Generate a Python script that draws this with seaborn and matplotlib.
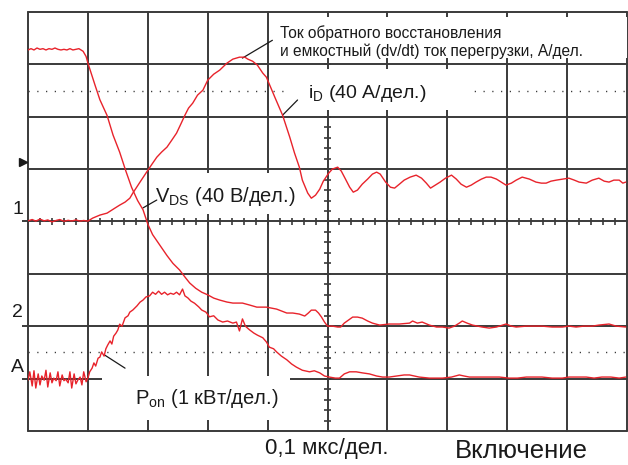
import numpy as np
import pandas as pd
import matplotlib
matplotlib.use("Agg")
import matplotlib.pyplot as plt
import seaborn as sns
from matplotlib.patches import Rectangle

# Oscilloscope traces (time in ns, 100 ns/div)
# V_DS, volts (40 V/div, ground marker "2")
vds_t = [0, 5, 10, 15, 20, 25, 30, 35, 40, 45, 50, 55, 60, 65, 70, 75, 80, 85, 92, 97,
         100, 112, 120, 132, 142, 153, 163, 173, 183, 192, 200, 208, 220, 232, 242, 253, 263, 270, 280, 290,
         300, 310, 320, 332, 342, 358, 370, 382, 398, 415, 432, 442, 453, 462, 468, 473, 480, 485, 490, 495,
         500, 508, 517, 522, 528, 535, 542, 550, 558, 567, 575, 587, 603, 620, 637, 642, 650, 658, 670, 682,
         692, 703, 712, 720, 725, 733, 742, 758, 770, 782, 798, 807, 815, 832, 845, 858, 875, 892, 903, 915,
         928, 942, 953, 970, 982, 998]
vds_v = [211, 212, 211, 212.5, 211.5, 212, 211, 212, 211.5, 212.5, 211.5, 211, 211.5, 211, 212, 211, 211.5, 212, 210, 206,
         201, 184, 173, 161, 146, 133, 119, 106, 96, 89, 78, 70, 62, 54, 48, 43, 37, 33, 29, 26,
         24, 21.5, 20, 18.5, 17.7, 17.7, 16.2, 14.6, 14.6, 13.1, 10.1, 10.1, 9.3, 7.8, 10.1, 12.3, 12.3, 10.1, 7.0, 3.2,
         0.1, 0.1, -0.6, -0.6, 2.4, 4.7, 7.0, 7.0, 6.2, 4.0, 2.4, 0.9, 1.7, 1.7, 2.4, 4.0, 2.4, 3.2, 0.9, -0.6,
         -0.6, -1.4, 0.1, 2.4, 4.0, 2.4, 0.9, -0.6, -1.4, -0.6, 1.7, 0.1, -0.6, 0.1, 0.1, 0.1, -0.6, -0.6, 0.1, -0.6,
         0.1, 0.1, 0.9, 1.7, 0.1, -0.6]

# i_D, amps (40 A/div, ground marker "1")
id_t = [0, 7, 13, 20, 27, 33, 40, 47, 53, 60, 67, 73, 80, 87, 93,
        100, 108, 120, 132, 145, 153, 162, 170, 175, 187,
        198, 207, 215, 223, 232, 240, 248, 255, 262, 268,
        275, 283, 292, 300, 310, 320, 332, 342, 353, 362,
        367, 375, 383, 392, 398, 412, 425, 437, 445, 453,
        458, 467, 473, 480, 487, 493, 502, 508, 517, 523,
        530, 537, 543, 550, 558, 567, 575, 582, 588, 597,
        605, 612, 620, 628, 638, 648, 657, 665, 672, 680,
        688, 697, 707, 715, 723, 732, 740, 748, 757, 765,
        773, 782, 790, 798, 807, 815, 825, 837, 848, 857,
        865, 873, 882, 893, 903, 912, 920, 932, 942, 953,
        962, 970, 978, 987, 993, 998]
id_a = [0.5, 1.5, 0.3, 1.8, 0.5, 1.2, -0.3, 0.8, 1.5, 0.2, 0.9, 0.4, 1.2, 0.3, 0.8,
        0.3, 2.6, 4.9, 6.4, 10.2, 12.5, 14.8, 17.8, 21.7, 30.1,
        37.7, 43.8, 49.1, 53.0, 56.8, 62.1, 67.5, 74.3, 81.2, 86.6,
        90.4, 96.5, 100.3, 107.9, 112.5, 115.6, 120.9, 124.0, 125.5, 125.5,
        124.0, 122.4, 119.4, 113.3, 110.2, 95.0, 81.2, 64.4, 52.2, 41.5,
        31.6, 21.7, 17.8, 20.1, 24.7, 30.8, 36.9, 40.0, 41.5, 38.5,
        32.4, 26.2, 22.4, 24.0, 28.5, 32.4, 36.2, 37.7, 36.2, 30.1,
        26.2, 25.5, 28.5, 31.6, 33.9, 35.4, 33.1, 29.3, 25.5, 27.8,
        30.1, 33.1, 35.4, 32.4, 28.5, 26.2, 27.8, 30.1, 32.4, 33.9,
        33.9, 32.4, 30.1, 27.8, 29.3, 31.6, 33.9, 32.4, 30.1, 29.3,
        29.3, 30.8, 31.6, 32.4, 33.1, 31.6, 30.1, 29.3, 31.6, 33.1,
        30.8, 30.1, 31.6, 31.6, 29.3, 30.1]

# P_on, kW (1 kW/div, ground marker "A")
pon_t = [0, 3, 7, 10, 13, 17, 20, 23, 27, 30, 33, 37, 40, 43, 47, 50, 53, 57, 60, 63,
         67, 70, 73, 77, 80, 83, 87, 90, 93, 97,
         100, 103, 107, 110, 113, 117, 120, 123, 127, 130,
         133, 137, 140, 143, 147, 150, 153, 157, 162, 167,
         170, 175, 182, 187, 192, 197, 203, 208, 213, 218,
         223, 228, 233, 238, 243, 248, 253, 258, 262, 267,
         272, 278, 285, 290, 297, 303, 310, 317, 325, 333,
         342, 348, 353, 358, 363, 370, 377, 383, 392, 398,
         403, 410, 415, 423, 432, 440, 448, 458, 470, 478,
         487, 495, 503, 513, 520, 528, 537, 548, 558, 570,
         582, 592, 603, 615, 628, 637, 645, 653, 670, 692,
         707, 720, 728, 737, 753, 775, 787, 803, 817, 832,
         845, 858, 875, 892, 903, 915, 932, 945, 958, 973,
         987, 998]
pon_k = [-0.03, 0.13, -0.14, 0.15, -0.18, 0.09, -0.12, 0.05, -0.03, 0.16, -0.16, 0.11, -0.08, 0.01, -0.04, 0.13, -0.14, 0.07, -0.04, -0.01,
         -0.08, 0.13, -0.18, 0.09, -0.10, -0.03, 0.03, -0.12, 0.13, -0.06,
         0.01, 0.13, 0.20, 0.30, 0.24, 0.39, 0.41, 0.51, 0.43, 0.57,
         0.64, 0.72, 0.66, 0.81, 0.87, 0.93, 1.04, 1.00, 1.16, 1.20,
         1.27, 1.31, 1.39, 1.46, 1.50, 1.56, 1.58, 1.65, 1.61, 1.67,
         1.61, 1.65, 1.60, 1.63, 1.61, 1.65, 1.60, 1.71, 1.58, 1.54,
         1.48, 1.44, 1.37, 1.31, 1.27, 1.18, 1.20, 1.12, 1.08, 1.10,
         1.06, 1.08, 0.91, 1.14, 1.00, 0.93, 0.87, 0.83, 0.78, 0.70,
         0.60, 0.57, 0.51, 0.43, 0.36, 0.28, 0.22, 0.16, 0.13, 0.15,
         0.11, 0.05, 0.03, 0.01, 0.01, 0.09, 0.13, 0.13, 0.11, 0.09,
         0.05, 0.03, 0.03, 0.05, 0.07, 0.07, 0.05, 0.03, 0.01, 0.01,
         0.03, 0.07, 0.05, 0.03, 0.03, 0.03, 0.03, 0.01, 0.01, 0.03,
         0.03, 0.03, 0.01, 0.01, 0.03, 0.03, 0.03, 0.01, 0.03, 0.03,
         0.01, 0.03]

# channel ground positions (div) and scales (units/div)
gnd = {'vds': 2, 'id': 4, 'pon': 1}
scale = {'vds': 40, 'id': 40, 'pon': 1}

sns.set_style("white")
plt.rcParams['font.family'] = ['Liberation Sans', 'DejaVu Sans']
plt.rcParams['mathtext.fontset'] = 'custom'
plt.rcParams['mathtext.rm'] = 'Liberation Sans'
plt.rcParams['mathtext.it'] = 'Liberation Sans:italic'

RED = '#e8232b'
GRID = '#3a3a3a'
INK = '#1a1a1a'

fig = plt.figure(figsize=(6.28, 4.65), dpi=100)
ax = fig.add_axes([28 / 628, 34 / 465, 599 / 628, 419 / 465])

# traces
traces = [('vds', vds_t, vds_v), ('id', id_t, id_a), ('pon', pon_t, pon_k)]
for name, t, v in traces:
    df = pd.DataFrame({'t': t, 'div': gnd[name] + np.array(v) / scale[name]})
    sns.lineplot(data=df, x='t', y='div', ax=ax, color=RED, lw=1.0,
                 estimator=None, sort=False, zorder=4)
ax.set_xlim(0, 1000)
ax.set_ylim(0, 8)
ax.axis('off')

# screen graticule
for x in range(0, 1001, 100):
    ax.axvline(x, color=GRID, lw=1.4, zorder=1, clip_on=False)
for y in range(0, 9):
    ax.axhline(y, color=GRID, lw=1.4, zorder=1, clip_on=False)
ax.vlines(np.arange(20, 1000, 20), 4 - 0.07, 4 + 0.07, color=GRID, lw=1.2, zorder=1)
ax.hlines(np.arange(0.2, 8, 0.2), 500 - 6, 500 + 6, color=GRID, lw=1.2, zorder=1)
dots = dict(color=GRID, lw=1.0, ls=(0, (0.9, 5.4)), zorder=1)
ax.plot([0, 1000], [6.5, 6.5], **dots)
ax.plot([0, 1000], [1.5, 1.5], **dots)

# ground / trigger markers on the left edge
ax.hlines([4, 2, 1], -10, 0, color=GRID, lw=1.4, clip_on=False)
ax.plot([-8], [5.13], marker='>', ms=6, color=INK, clip_on=False)
for lab, yy in [("1", 4.22), ("2", 2.27), ("A", 1.22)]:
    ax.text(-17, yy, lab, fontsize=14, ha='center', va='center', color=INK)

# blank areas behind the captions (graticule is cut there)
for (x0, y0, x1, y1) in [(412, 7.12, 1000, 7.90), (437, 6.13, 737, 6.91),
                         (207, 4.14, 453, 4.92), (123, 0.21, 437, 1.05)]:
    ax.add_patch(Rectangle((x0, y0), x1 - x0, y1 - y0, fc='white', ec='none', zorder=2))

ax.text(420, 7.43, "Ток обратного восстановления\nи емкостный (dv/dt) ток перегрузки, А/дел.",
        fontsize=11.2, va='center', ha='left', linespacing=1.22, color=INK, zorder=3)
ax.text(467, 6.45, r"$\mathrm{i}_{\mathrm{D}}$ (40 А/дел.)", fontsize=14, va='center',
        color=INK, zorder=3)
ax.text(212, 4.47, r"$\mathrm{V}_{\mathrm{DS}}$ (40 В/дел.)", fontsize=14.5, va='center',
        color=INK, zorder=3)
ax.text(178, 0.63, r"$\mathrm{P}_{\mathrm{on}}$ (1 кВт/дел.)", fontsize=14.5, va='center',
        color=INK, zorder=3)

lead = dict(arrowstyle='-', color=INK, lw=0.9, shrinkA=0, shrinkB=0)
ax.annotate('', xy=(358, 7.12), xytext=(408, 7.46), arrowprops=lead, zorder=3)
ax.annotate('', xy=(425, 6.03), xytext=(450, 6.32), arrowprops=lead, zorder=3)
ax.annotate('', xy=(192, 4.26), xytext=(215, 4.41), arrowprops=lead, zorder=3)
ax.annotate('', xy=(128, 1.45), xytext=(162, 1.20), arrowprops=lead, zorder=3)

fig.text(265 / 628, 1 - 448 / 465, "0,1 мкс/дел.", fontsize=16, va='center', color=INK)
fig.text(455 / 628, 1 - 451 / 465, "Включение", fontsize=18.5, va='center', color=INK)

fig.savefig("out.png", dpi=100, facecolor='white')
